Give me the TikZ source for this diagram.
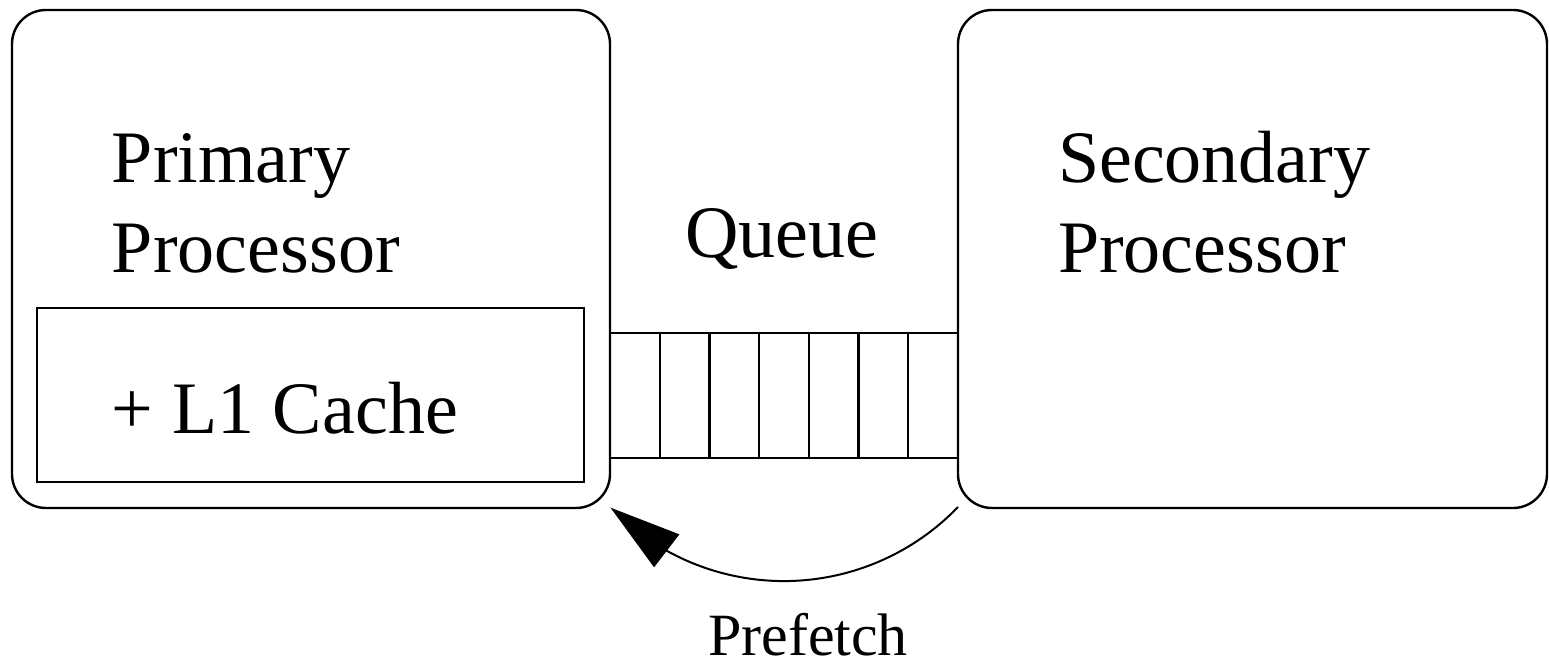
\documentclass[tikz,border=0pt]{standalone}
\usepackage{fontspec}
\setmainfont{Liberation Serif}
\usetikzlibrary{arrows.meta,bending,calc}
\begin{document}
\begin{tikzpicture}[x=0.5pt,y=0.5pt,
  box/.style={draw, line width=1.2pt, inner sep=0pt, outer sep=0pt},
  rbox/.style={box, rounded corners=17pt},
  big/.style={font=\fontsize{37}{45}\selectfont, inner sep=0pt, outer sep=0pt},
  small/.style={font=\fontsize{30}{36}\selectfont, inner sep=0pt, outer sep=0pt},
  divider/.style={line width=1.2pt},
  link/.style={line width=1pt, -{Triangle[length=35.5pt,width=20.5pt]}}]
\useasboundingbox (0,0) rectangle (1549,660);
\node[rbox, minimum width=299pt, minimum height=249pt] (prim) at (311,401) {};
\node[rbox, minimum width=294.5pt, minimum height=249pt] (sec) at (1252.5,401) {};
\node[box, minimum width=273.5pt, minimum height=87pt] (cache) at (310.5,265) {};
\node[box, minimum width=174pt, minimum height=62.5pt] (queue) at (784,264.5) {};
\foreach \i in {1,...,6}
  \draw[divider] ($(queue.north west)!\i/7!(queue.north east)$) -- ($(queue.south west)!\i/7!(queue.south east)$);
\node[big, anchor=base west] (primA) at (112,477) {Primary};
\node[big, anchor=base west] (primB) at (112,387) {Processor};
\node[big, anchor=base west] (cachetxt) at (112,227) {+ L1 Cache};
\node[big, anchor=base] (queuetxt) at (782,402) {Queue};
\node[big, anchor=base west] (secA) at (1058,477) {Secondary};
\node[big, anchor=base west] (secB) at (1058,387) {Processor};
\coordinate (pfs) at (958,153);
\draw[link] (pfs) arc[start angle=-43.9, end angle=-135.9, radius=120.8pt];
\node[small, anchor=base] (pf) at (808,5) {Prefetch};
\end{tikzpicture}
\end{document}
